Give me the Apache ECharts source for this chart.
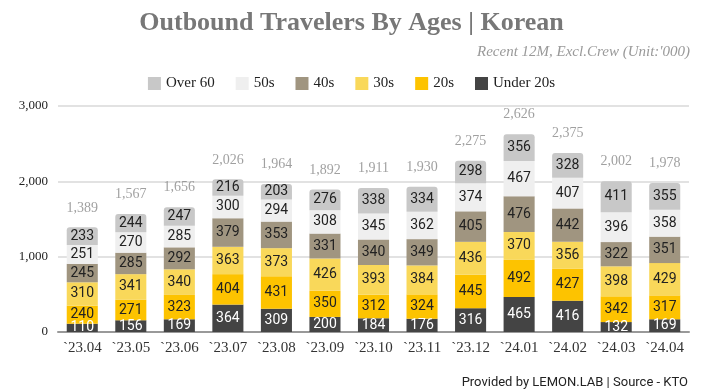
<!DOCTYPE html>
<html><head><meta charset="utf-8">
<script src="https://cdn.jsdelivr.net/npm/echarts@6/dist/echarts.min.js"></script>
<style>html,body{margin:0;padding:0;background:#fff}#c{width:703px;height:392px}</style>
</head><body><div id="c"></div>
<script>
const categories = ['`23.04','`23.05','`23.06','`23.07','`23.08','`23.09','`23.10','`23.11','`23.12','`24.01','`24.02','`24.03','`24.04'];
const under20 = [110,156,169,364,309,200,184,176,316,465,416,132,169];
const s20 = [240,271,323,404,431,350,312,324,445,492,427,342,317];
const s30 = [310,341,340,363,373,426,393,384,436,370,356,398,429];
const s40 = [245,285,292,379,353,331,340,349,405,476,442,322,351];
const s50 = [251,270,285,300,294,308,345,362,374,467,407,396,358];
const over60 = [233,244,247,216,203,276,338,334,298,356,328,411,355];
const totals = [1389,1567,1656,2026,1964,1892,1911,1930,2275,2626,2375,2002,1978];
const yTicks = [0,1000,2000,3000];

const serif = "'Liberation Serif', 'DejaVu Serif', serif";
const chart = echarts.init(document.getElementById('c'), null, {renderer:'canvas'});

function seg(name, data, color, labelColor, radius){
  return {
    name, type:'bar', stack:'total', data, barWidth:'64%',
    itemStyle:{color, borderRadius: radius ? [3,3,0,0] : 0},
    label:{show:true, position:'inside', color:labelColor, fontFamily:'Roboto', fontSize:14},
    emphasis:{disabled:true}
  };
}

chart.setOption({
  animation:false,
  title:[
    {text:'Outbound Travelers By Ages | Korean', left:'center', top:5,
     textStyle:{fontFamily:serif, fontWeight:'bold', fontSize:26, color:'#777'}},
    {text:"Recent 12M, Excl.Crew (Unit:'000)", right:8, top:40,
     textStyle:{fontFamily:serif, fontStyle:'italic', fontWeight:'normal', fontSize:15, color:'#999'}},
    {text:'Provided by LEMON.LAB | Source - KTO', right:10, top:371,
     textStyle:{fontFamily:'Roboto', fontWeight:'normal', fontSize:13, color:'#222'}}
  ],
  legend:{
    data:['Over 60','50s','40s','30s','20s','Under 20s'],
    top:71, left:'center', itemWidth:13, itemHeight:13, itemGap:21,
    icon:'rect',
    textStyle:{fontFamily:serif, fontSize:15, color:'#222'}
  },
  grid:{left:58, right:14, top:106, bottom:60, containLabel:false},
  xAxis:{
    type:'category', data:categories,
    axisLine:{lineStyle:{color:'#999', width:2}},
    axisTick:{show:false},
    axisLabel:{fontFamily:serif, fontSize:15, color:'#333', margin:9, interval:0}
  },
  yAxis:{
    type:'value', min:0, max:3000, interval:1000,
    axisLine:{show:false}, axisTick:{show:false},
    splitLine:{lineStyle:{color:'#e2e2e2', width:2}},
    axisLabel:{fontFamily:serif, fontSize:13, color:'#222', margin:10,
      formatter:v=>v.toLocaleString('en-US')}
  },
  series:[
    seg('Under 20s', under20, '#444444', '#fff'),
    seg('20s', s20, '#fdc300', '#222'),
    seg('30s', s30, '#f9d85a', '#222'),
    seg('40s', s40, '#a09580', '#222'),
    seg('50s', s50, '#efefef', '#222'),
    seg('Over 60', over60, '#c8c8c8', '#222', true),
    {
      name:'Total', type:'scatter', data:totals, symbol:'circle', symbolSize:1,
      itemStyle:{color:'rgba(0,0,0,0)'}, silent:true, z:10,
      label:{show:true, position:'top', distance:12, fontFamily:serif, fontSize:14, color:'#888',
        formatter:p=>p.value.toLocaleString('en-US')}
    }
  ]
});
</script></body></html>
